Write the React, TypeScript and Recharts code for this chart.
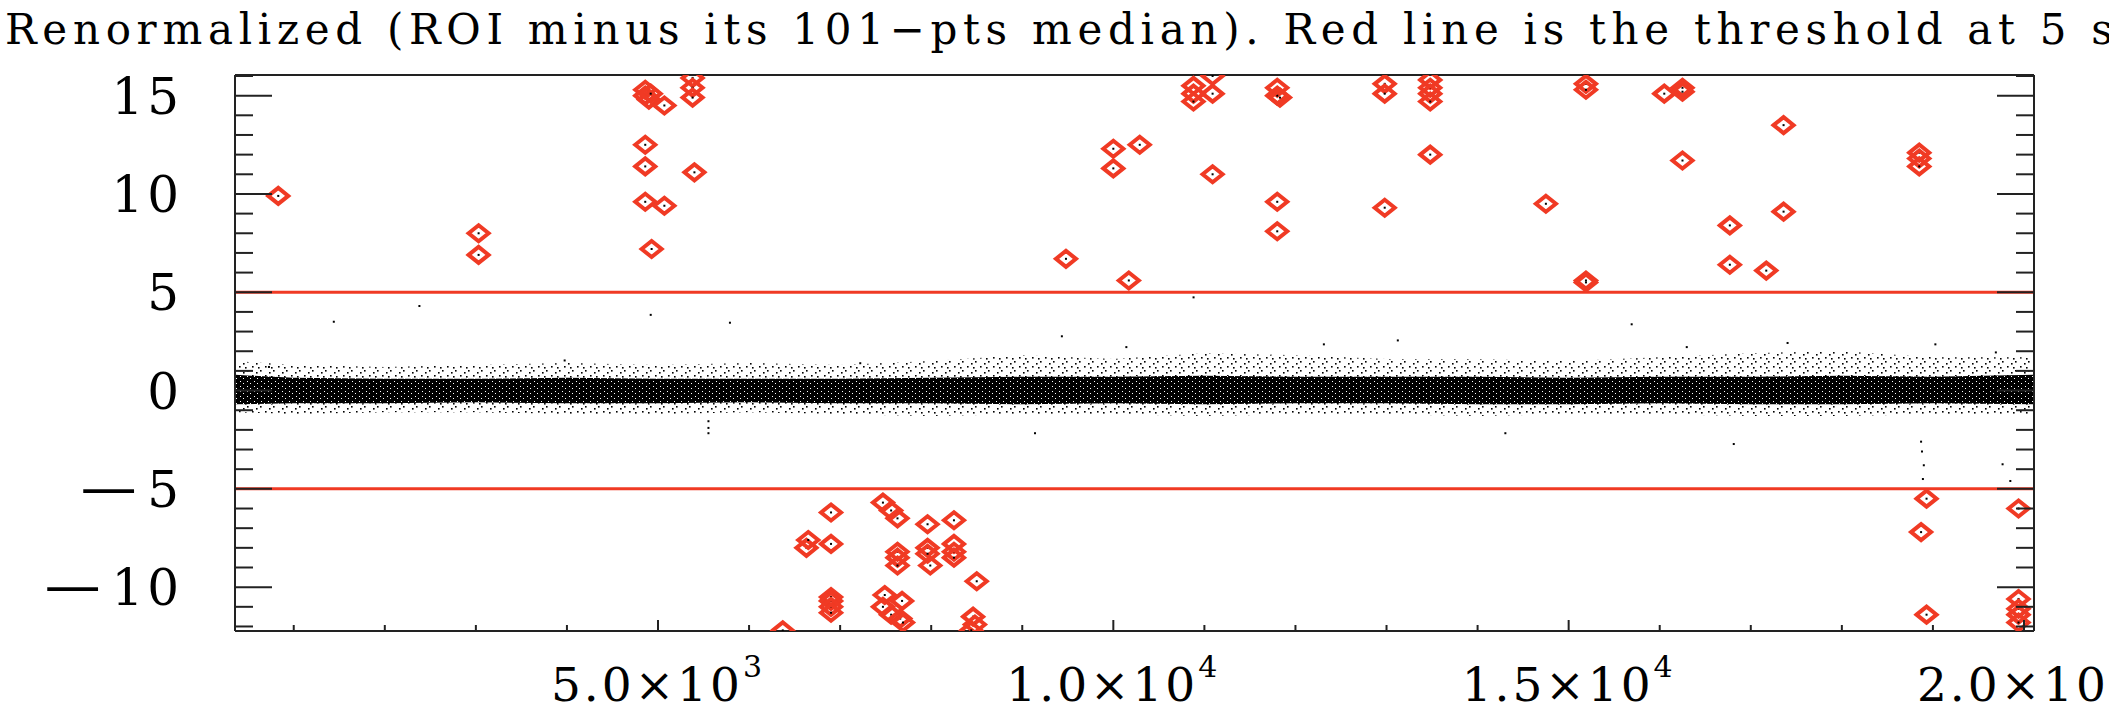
import React from 'react';
import { ComposedChart, XAxis, YAxis, Scatter, Area, ReferenceLine } from 'recharts';

const RED = '#f03a24';
const INK = '#222';
const FONT = '"DejaVu Serif", serif';

const TITLE = 'Renormalized (ROI minus its 101\u2212pts median). Red line is the threshold at 5 s';

// axis ticks
const xTicks = [1000, 2000, 3000, 4000, 5000, 6000, 7000, 8000, 9000, 10000, 11000, 12000, 13000, 14000, 15000, 16000, 17000, 18000, 19000, 20000];
const xLabelTicks = [5000, 10000, 15000, 20000];
const xLabelMantissa = ['5.0\u00d710', '1.0\u00d710', '1.5\u00d710', '2.0\u00d710'];
const xLabelExp = ['3', '4', '4', '4'];
const yTicks = [-12, -11, -10, -9, -8, -7, -6, -5, -4, -3, -2, -1, 0, 1, 2, 3, 4, 5, 6, 7, 8, 9, 10, 11, 12, 13, 14, 15, 16];
const yLabelTicks = [-10, -5, 0, 5, 10, 15];
const yLabelSign = ['\u2212', '\u2212', '', '', '', ''];
const yLabelDigits = ['10', '5', '0', '5', '10', '15'];

// noise band envelopes (dense core and speckled fringe)
const bandX = [355, 1000, 2000, 3000, 4000, 5000, 6000, 7000, 8000, 9000, 10000, 11000, 12000, 13000, 14000, 15000, 16000, 17000, 18000, 19000, 20110];
const coreHi = [0.8, 0.65, 0.6, 0.6, 0.65, 0.6, 0.6, 0.6, 0.65, 0.7, 0.7, 0.75, 0.7, 0.7, 0.7, 0.65, 0.7, 0.7, 0.75, 0.7, 0.8];
const coreLo = [-0.7, -0.65, -0.65, -0.6, -0.65, -0.65, -0.6, -0.65, -0.65, -0.7, -0.65, -0.7, -0.65, -0.65, -0.7, -0.7, -0.65, -0.7, -0.7, -0.65, -0.7];
const speckHi = [1.5, 1.3, 1.2, 1.3, 1.4, 1.3, 1.4, 1.3, 1.5, 1.8, 1.6, 1.9, 1.8, 1.6, 1.6, 1.5, 1.7, 1.9, 2.0, 1.7, 1.7];
const speckLo = [-1.1, -1.2, -1.1, -1.1, -1.2, -1.2, -1.1, -1.2, -1.3, -1.2, -1.2, -1.3, -1.2, -1.2, -1.3, -1.2, -1.2, -1.3, -1.3, -1.2, -1.2];

// isolated black points away from the band
const dotX = [1440, 2380, 4920, 5790, 5554, 5554, 5554, 9140, 10881, 14305, 15692, 16813, 18870, 18880, 18900, 18890, 19765, 19850, 9435, 10143, 12312, 13124, 16297, 17404, 19027, 19691, 7221, 3975, 728];
const dotY = [3.5, 4.3, 3.85, 3.45, -1.56, -1.9, -2.17, -2.17, 4.74, -2.17, 3.37, -2.72, -2.6, -3.1, -3.8, -4.5, -3.75, -4.6, 2.76, 2.21, 2.35, 2.55, 2.21, 2.42, 2.35, 1.94, 1.39, 1.53, 1.2];

// points flagged above the threshold
const diamondX = [830, 3030, 3030, 4860, 4860, 4900, 4920, 4860, 4860, 4860, 4930, 5070, 5070, 5380, 5380, 5380, 5400,
  6370, 6630, 6650, 6900, 6900, 6900, 6900, 6900, 6900, 7470, 7560, 7630, 7630, 7630, 7630, 7490, 7470, 7560, 7680, 7660, 7690,
  7960, 7960, 7960, 7990, 8250, 8250, 8250, 8250, 8500, 8460, 8480, 8440,
  9480, 10000, 10000, 10290, 10170, 10880, 10880, 10880, 11090, 11090, 11090, 11800, 11800, 11830, 11800, 11800,
  12980, 12980, 12980, 13480, 13480, 13480, 13480, 13480, 14750, 15190, 15190, 15190, 15190, 16050, 16250, 16250, 16250,
  16770, 16770, 17170, 17360, 17360, 18850, 18850, 18850, 18870, 18930, 18930, 19940, 19940, 19940, 19940, 19940];
const diamondY = [9.9, 8.0, 6.9, 15.3, 15.0, 14.8, 15.1, 12.5, 11.4, 9.6, 7.2, 9.4, 14.5, 15.9, 15.4, 14.9, 11.1,
  -12.2, -8.0, -7.6, -7.8, -6.2, -10.5, -10.7, -11.0, -11.3, -5.7, -6.1, -6.5, -8.2, -8.5, -8.9, -10.4, -11.0, -11.4, -10.7, -11.6, -11.8,
  -6.8, -8.0, -8.3, -8.9, -6.6, -7.8, -8.2, -8.5, -9.7, -11.5, -11.9, -12.2,
  6.7, 12.3, 11.3, 12.5, 5.6, 15.5, 15.1, 14.7, 16.0, 15.1, 11.0, 15.4, 15.0, 14.9, 9.6, 8.1,
  15.6, 15.1, 9.3, 15.8, 15.4, 15.1, 14.7, 12.0, 9.5, 15.6, 15.3, 5.6, 5.5, 15.1, 15.4, 15.2, 11.7,
  8.4, 6.4, 6.1, 13.5, 9.1, 12.1, 11.8, 11.4, -7.2, -5.5, -11.4, -6.0, -10.6, -11.1, -11.4, -11.8];

const bandData = bandX.map((x, i) => ({ x, core: [coreLo[i], coreHi[i]], speck: [speckLo[i], speckHi[i]] }));
const dots = dotX.map((x, i) => ({ x, y: dotY[i] }));
const diamonds = diamondX.map((x, i) => ({ x, y: diamondY[i] }));

const XTickBottom = (props: any) => {
  const { x, y, payload } = props;
  const i = xLabelTicks.indexOf(payload.value);
  return (
    <g>
      <line x1={x} x2={x} y1={y} y2={y - (i >= 0 ? 11 : 6)} stroke={INK} strokeWidth={2} />
      {i >= 0 && (
        <text x={x} y={y + 70} textAnchor="middle" fontFamily={FONT} fontSize={47} fill="#000" letterSpacing={3}>
          {xLabelMantissa[i]}
          <tspan dy={-24} fontSize={30}>{xLabelExp[i]}</tspan>
        </text>
      )}
    </g>
  );
};

const XTickTop = (props: any) => {
  const { x, y, payload } = props;
  const major = xLabelTicks.indexOf(payload.value) >= 0;
  return <line x1={x} x2={x} y1={y} y2={y + (major ? 11 : 6)} stroke={INK} strokeWidth={2} />;
};

const YTickLeft = (props: any) => {
  const { x, y, payload } = props;
  const i = yLabelTicks.indexOf(payload.value);
  if (i < 0) {
    return <line x1={x} x2={x + 18} y1={y} y2={y} stroke={INK} strokeWidth={2} />;
  }
  const right = x - 52;
  const signEnd = right - yLabelDigits[i].length * 36 - 4;
  return (
    <g>
      <line x1={x} x2={x + 37} y1={y} y2={y} stroke={INK} strokeWidth={2} />
      <text x={right} y={y + 18} textAnchor="end" fontFamily={FONT} fontSize={50} fill="#000" letterSpacing={4}>
        {yLabelDigits[i]}
      </text>
      {yLabelSign[i] && (
        <text x={signEnd - 68} y={y + 18} fontFamily={FONT} fontSize={50} fill="#000"
          textLength={68} lengthAdjust="spacingAndGlyphs">
          {yLabelSign[i]}
        </text>
      )}
    </g>
  );
};

const YTickRight = (props: any) => {
  const { x, y, payload } = props;
  const major = yLabelTicks.indexOf(payload.value) >= 0;
  return <line x1={x} x2={x - (major ? 37 : 18)} y1={y} y2={y} stroke={INK} strokeWidth={2} />;
};

const Diamond = (props: any) => {
  const { cx, cy } = props;
  return (
    <g>
      <polygon
        points={`${cx - 10},${cy} ${cx},${cy - 8} ${cx + 10},${cy} ${cx},${cy + 8}`}
        fill="none"
        stroke={RED}
        strokeWidth={4}
      />
      <rect x={cx - 1} y={cy - 1} width={2} height={2} fill="#000" />
    </g>
  );
};

const Dot = (props: any) => <rect x={props.cx - 1} y={props.cy - 1} width={2} height={2} fill="#000" />;

const axisLine = { stroke: INK, strokeWidth: 2 };

export default function App() {
  return (
    <div style={{ position: 'relative', width: 2109, height: 714, background: '#fff', overflow: 'hidden' }}>
      <style>{'body{margin:0;background:#fff;}'}</style>
      <svg width={0} height={0} style={{ position: 'absolute' }}>
        <defs>
          <pattern id="speck" width="13" height="9" patternUnits="userSpaceOnUse">
            <rect x="0" y="1" width="1.6" height="1.6" fill="#000" />
            <rect x="5" y="6" width="1.6" height="1.6" fill="#000" />
            <rect x="9" y="3" width="1.6" height="1.6" fill="#000" />
            <rect x="11" y="7" width="1.6" height="1.6" fill="#000" />
          </pattern>
          <pattern id="core" width="7" height="5" patternUnits="userSpaceOnUse">
            <rect x="0" y="0" width="7" height="5" fill="#000" />
            <rect x="2" y="1" width="1" height="1" fill="#fff" />
            <rect x="5" y="3" width="1" height="1" fill="#fff" />
          </pattern>
        </defs>
      </svg>
      <ComposedChart width={2109} height={714} data={bandData} margin={{ top: 0, right: 0, bottom: 0, left: 0 }}>
        <XAxis dataKey="x" type="number" domain={[355, 20110]} allowDataOverflow ticks={xTicks} interval={0}
          tick={XTickBottom} tickLine={false} tickSize={0} tickMargin={0} axisLine={axisLine} height={83} />
        <XAxis xAxisId="t" orientation="top" type="number" domain={[355, 20110]} allowDataOverflow ticks={xTicks} interval={0}
          tick={XTickTop} tickLine={false} tickSize={0} tickMargin={0} axisLine={axisLine} height={75} />
        <YAxis type="number" domain={[-12.23, 16.05]} allowDataOverflow ticks={yTicks} interval={0}
          tick={YTickLeft} tickLine={false} tickSize={0} tickMargin={0} axisLine={axisLine} width={235} />
        <YAxis yAxisId="r" orientation="right" type="number" domain={[-12.23, 16.05]} allowDataOverflow ticks={yTicks} interval={0}
          tick={YTickRight} tickLine={false} tickSize={0} tickMargin={0} axisLine={axisLine} width={75} />
        <Area dataKey="speck" type="linear" stroke="none" fill="url(#speck)" fillOpacity={1} isAnimationActive={false} />
        <Area dataKey="core" type="linear" stroke="none" fill="url(#core)" fillOpacity={1} isAnimationActive={false} />
        <Scatter data={dots} dataKey="y" shape={Dot} isAnimationActive={false} />
        <ReferenceLine y={5} stroke={RED} strokeWidth={3} />
        <ReferenceLine y={-5} stroke={RED} strokeWidth={3} />
        <Scatter data={diamonds} dataKey="y" shape={Diamond} isAnimationActive={false} />
      </ComposedChart>
      <svg width={2109} height={714} style={{ position: 'absolute', left: 0, top: 0, pointerEvents: 'none' }}>
        <text x={5} y={44} fontFamily={FONT} fontSize={42} fill="#000" letterSpacing={5.7}>{TITLE}</text>
      </svg>
    </div>
  );
}
